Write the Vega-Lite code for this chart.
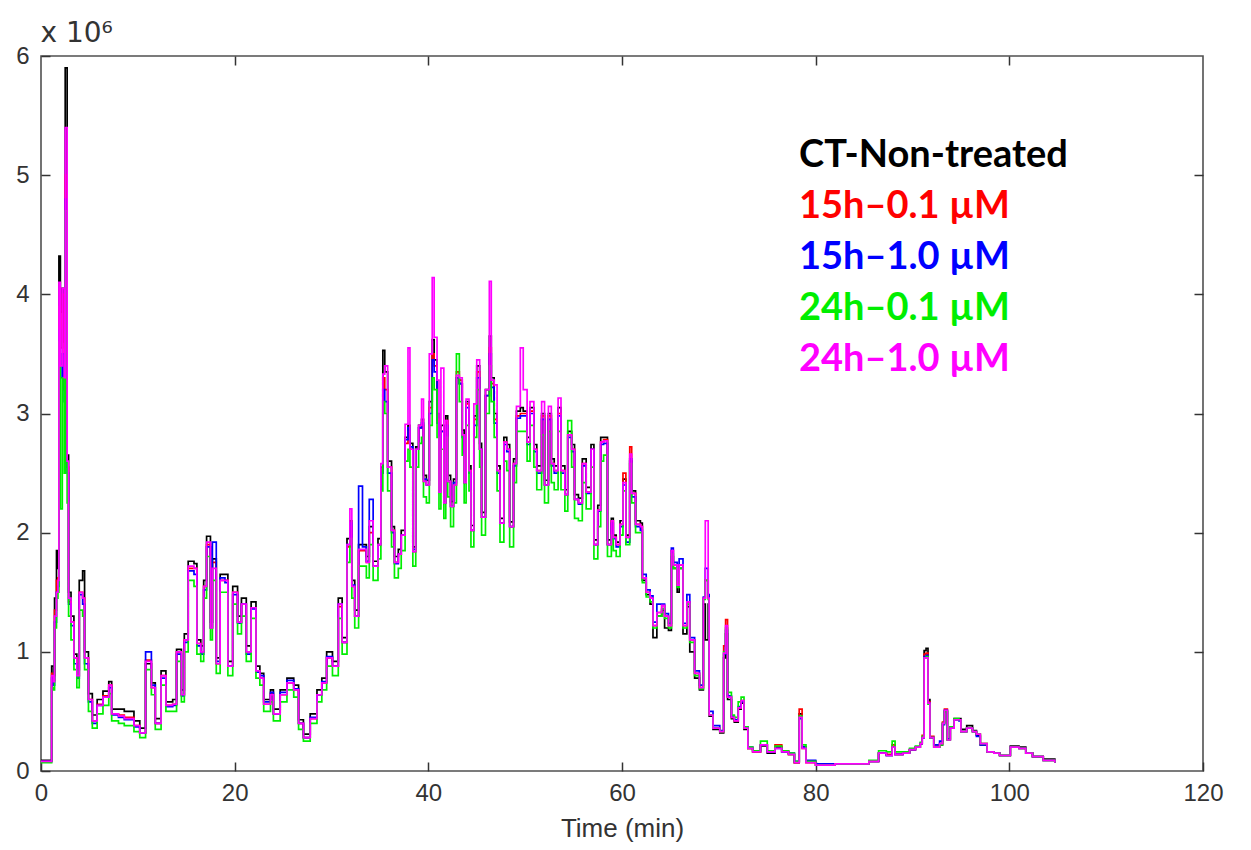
{
"$schema": "https://vega.github.io/schema/vega-lite/v6.json",
"width": 1162, "height": 715,
"autosize": {"type": "none"},
"padding": {"left": 41, "top": 56, "right": 48, "bottom": 79},
"background": "white",
"config": {
  "view": {"stroke": "#505050", "strokeWidth": 1.6},
  "axis": {"domain": false, "grid": false, "labelFont": "Liberation Sans", "titleFont": "Liberation Sans", "labelFontSize": 24, "titleFontSize": 26, "labelColor": "#333", "titleColor": "#333", "tickColor": "#333", "tickWidth": 1.5, "titleFontWeight": "normal"}
},
"data": {"values": [
{"t":0,"k":0.09,"r":0.08,"b":0.08,"g":0.07,"m":0.08},
{"t":1.0,"k":0.09,"r":0.08,"b":0.08,"g":0.07,"m":0.08},
{"t":1.1,"k":0.88,"r":0.82,"b":0.78,"g":0.7,"m":0.8},
{"t":1.3,"k":0.8,"r":0.76,"b":0.72,"g":0.68,"m":0.75},
{"t":1.4,"k":1.45,"r":1.35,"b":1.25,"g":1.2,"m":1.3},
{"t":1.6,"k":1.85,"r":1.6,"b":1.5,"g":1.45,"m":1.5},
{"t":1.75,"k":1.7,"r":1.62,"b":1.55,"g":1.5,"m":1.6},
{"t":1.85,"k":4.32,"r":3.9,"b":3.7,"g":3.6,"m":4.1},
{"t":2.0,"k":3.85,"r":3.55,"b":3.3,"g":2.2,"m":3.4},
{"t":2.2,"k":4.05,"r":4.0,"b":3.5,"g":3.3,"m":4.05},
{"t":2.4,"k":3.6,"r":3.2,"b":3.1,"g":2.5,"m":3.3},
{"t":2.5,"k":5.9,"r":5.0,"b":4.8,"g":4.7,"m":5.4},
{"t":2.7,"k":2.65,"r":2.55,"b":2.5,"g":2.25,"m":2.6},
{"t":2.85,"k":1.5,"r":1.42,"b":1.4,"g":1.3,"m":1.45},
{"t":3.1,"k":1.3,"r":1.25,"b":1.22,"g":1.1,"m":1.25},
{"t":3.4,"k":0.98,"r":0.95,"b":0.9,"g":0.85,"m":0.95},
{"t":3.7,"k":0.85,"r":0.8,"b":0.78,"g":0.7,"m":0.8},
{"t":3.95,"k":1.6,"r":1.5,"b":1.48,"g":1.35,"m":1.5},
{"t":4.3,"k":1.68,"r":1.45,"b":1.4,"g":1.3,"m":1.45},
{"t":4.5,"k":1.0,"r":0.95,"b":0.9,"g":0.85,"m":0.95},
{"t":4.9,"k":0.65,"r":0.6,"b":0.58,"g":0.5,"m":0.6},
{"t":5.3,"k":0.47,"r":0.42,"b":0.4,"g":0.36,"m":0.42},
{"t":5.8,"k":0.6,"r":0.56,"b":0.55,"g":0.48,"m":0.55},
{"t":6.4,"k":0.67,"r":0.63,"b":0.62,"g":0.55,"m":0.62},
{"t":7.0,"k":0.75,"r":0.72,"b":0.7,"g":0.65,"m":0.72},
{"t":7.3,"k":0.52,"r":0.48,"b":0.47,"g":0.42,"m":0.48},
{"t":8.0,"k":0.52,"r":0.47,"b":0.45,"g":0.4,"m":0.46},
{"t":8.6,"k":0.5,"r":0.45,"b":0.43,"g":0.38,"m":0.44},
{"t":9.6,"k":0.42,"r":0.38,"b":0.37,"g":0.33,"m":0.38},
{"t":10.2,"k":0.36,"r":0.32,"b":0.32,"g":0.28,"m":0.32},
{"t":10.8,"k":0.9,"r":0.93,"b":1.0,"g":0.85,"m":0.92},
{"t":11.4,"k":0.74,"r":0.7,"b":0.72,"g":0.64,"m":0.7},
{"t":11.8,"k":0.44,"r":0.4,"b":0.4,"g":0.35,"m":0.4},
{"t":12.4,"k":0.84,"r":0.8,"b":0.78,"g":0.72,"m":0.8},
{"t":12.9,"k":0.58,"r":0.55,"b":0.54,"g":0.5,"m":0.55},
{"t":13.6,"k":0.6,"r":0.56,"b":0.55,"g":0.5,"m":0.56},
{"t":14.0,"k":1.02,"r":1.0,"b":0.98,"g":0.92,"m":1.0},
{"t":14.5,"k":0.68,"r":0.64,"b":0.63,"g":0.58,"m":0.64},
{"t":14.8,"k":1.15,"r":1.1,"b":1.08,"g":1.0,"m":1.1},
{"t":15.2,"k":1.76,"r":1.7,"b":1.68,"g":1.6,"m":1.72},
{"t":15.8,"k":1.74,"r":1.7,"b":1.65,"g":1.55,"m":1.7},
{"t":16.1,"k":1.1,"r":1.07,"b":1.05,"g":0.98,"m":1.07},
{"t":16.5,"k":1.05,"r":1.0,"b":0.98,"g":0.92,"m":1.0},
{"t":16.8,"k":1.6,"r":1.55,"b":1.52,"g":1.45,"m":1.55},
{"t":17.1,"k":1.97,"r":1.9,"b":1.88,"g":1.8,"m":1.92},
{"t":17.5,"k":1.25,"r":1.2,"b":1.2,"g":1.1,"m":1.2},
{"t":17.7,"k":1.78,"r":1.75,"b":1.92,"g":1.6,"m":1.7},
{"t":18.1,"k":0.95,"r":0.9,"b":0.92,"g":0.82,"m":0.9},
{"t":18.5,"k":1.65,"r":1.6,"b":1.62,"g":1.5,"m":1.6},
{"t":19.0,"k":1.65,"r":1.6,"b":1.58,"g":1.5,"m":1.6},
{"t":19.3,"k":0.92,"r":0.88,"b":0.88,"g":0.8,"m":0.88},
{"t":19.8,"k":1.55,"r":1.5,"b":1.48,"g":1.4,"m":1.5},
{"t":20.3,"k":1.3,"r":1.25,"b":1.24,"g":1.15,"m":1.25},
{"t":20.7,"k":1.45,"r":1.4,"b":1.4,"g":1.3,"m":1.4},
{"t":21.2,"k":1.05,"r":1.0,"b":0.98,"g":0.92,"m":1.0},
{"t":21.7,"k":1.42,"r":1.37,"b":1.36,"g":1.28,"m":1.37},
{"t":22.2,"k":0.88,"r":0.84,"b":0.83,"g":0.78,"m":0.84},
{"t":22.6,"k":0.82,"r":0.78,"b":0.8,"g":0.72,"m":0.78},
{"t":23.0,"k":0.6,"r":0.56,"b":0.58,"g":0.5,"m":0.56},
{"t":23.7,"k":0.68,"r":0.65,"b":0.66,"g":0.58,"m":0.64},
{"t":24.0,"k":0.52,"r":0.48,"b":0.48,"g":0.42,"m":0.48},
{"t":24.7,"k":0.68,"r":0.64,"b":0.66,"g":0.58,"m":0.64},
{"t":25.4,"k":0.78,"r":0.74,"b":0.76,"g":0.68,"m":0.74},
{"t":26.1,"k":0.72,"r":0.68,"b":0.69,"g":0.62,"m":0.68},
{"t":26.6,"k":0.43,"r":0.4,"b":0.4,"g":0.35,"m":0.4},
{"t":27.1,"k":0.31,"r":0.28,"b":0.28,"g":0.25,"m":0.28},
{"t":27.8,"k":0.48,"r":0.44,"b":0.45,"g":0.4,"m":0.44},
{"t":28.5,"k":0.68,"r":0.64,"b":0.64,"g":0.58,"m":0.64},
{"t":29.0,"k":0.78,"r":0.74,"b":0.75,"g":0.68,"m":0.74},
{"t":29.5,"k":1.0,"r":0.95,"b":0.96,"g":0.88,"m":0.95},
{"t":30.1,"k":0.92,"r":0.88,"b":0.88,"g":0.8,"m":0.88},
{"t":30.7,"k":1.45,"r":1.38,"b":1.4,"g":1.28,"m":1.4},
{"t":31.1,"k":1.12,"r":1.08,"b":1.08,"g":0.98,"m":1.08},
{"t":31.6,"k":1.95,"r":1.88,"b":1.9,"g":1.75,"m":1.9},
{"t":31.9,"k":2.1,"r":2.05,"b":2.08,"g":1.95,"m":2.2},
{"t":32.1,"k":1.6,"r":1.55,"b":1.56,"g":1.45,"m":1.55},
{"t":32.4,"k":1.35,"r":1.3,"b":1.3,"g":1.2,"m":1.3},
{"t":32.8,"k":1.9,"r":1.85,"b":2.39,"g":1.72,"m":1.86},
{"t":33.2,"k":1.9,"r":1.85,"b":1.88,"g":1.72,"m":1.86},
{"t":33.6,"k":1.8,"r":1.75,"b":1.76,"g":1.62,"m":1.75},
{"t":33.9,"k":2.05,"r":2.0,"b":2.28,"g":1.9,"m":2.1},
{"t":34.3,"k":1.76,"r":1.72,"b":1.72,"g":1.6,"m":1.72},
{"t":34.8,"k":1.95,"r":1.9,"b":1.9,"g":1.78,"m":1.9},
{"t":35.1,"k":2.55,"r":2.5,"b":2.5,"g":2.35,"m":2.58},
{"t":35.3,"k":3.53,"r":3.3,"b":3.2,"g":3.1,"m":3.33},
{"t":35.5,"k":3.35,"r":3.2,"b":3.1,"g":3.0,"m":3.4},
{"t":35.8,"k":2.6,"r":2.55,"b":2.5,"g":2.35,"m":2.55},
{"t":36.2,"k":2.05,"r":2.02,"b":2.0,"g":1.88,"m":2.02},
{"t":36.5,"k":1.8,"r":1.75,"b":1.74,"g":1.62,"m":1.75},
{"t":36.9,"k":1.86,"r":1.82,"b":1.82,"g":1.7,"m":1.82},
{"t":37.2,"k":2.02,"r":1.98,"b":1.98,"g":1.85,"m":1.98},
{"t":37.6,"k":2.8,"r":2.75,"b":2.78,"g":2.6,"m":2.91},
{"t":37.9,"k":2.9,"r":2.85,"b":2.88,"g":2.7,"m":3.55},
{"t":38.1,"k":2.75,"r":2.7,"b":2.72,"g":2.55,"m":2.7},
{"t":38.4,"k":1.88,"r":1.84,"b":1.86,"g":1.72,"m":1.84},
{"t":38.7,"k":2.72,"r":2.7,"b":2.7,"g":2.55,"m":2.7},
{"t":39.0,"k":2.9,"r":2.88,"b":2.88,"g":2.75,"m":2.9},
{"t":39.3,"k":2.95,"r":2.9,"b":2.92,"g":2.8,"m":3.12},
{"t":39.5,"k":2.48,"r":2.43,"b":2.45,"g":2.3,"m":2.43},
{"t":39.8,"k":2.44,"r":2.4,"b":2.4,"g":2.25,"m":2.4},
{"t":40.1,"k":3.1,"r":3.05,"b":3.0,"g":2.9,"m":3.5},
{"t":40.4,"k":3.62,"r":3.5,"b":3.45,"g":3.3,"m":4.14},
{"t":40.6,"k":3.45,"r":3.4,"b":3.35,"g":3.2,"m":3.64},
{"t":40.9,"k":3.0,"r":2.95,"b":2.92,"g":2.8,"m":3.28},
{"t":41.1,"k":2.38,"r":2.34,"b":2.34,"g":2.2,"m":2.34},
{"t":41.3,"k":2.9,"r":2.85,"b":2.85,"g":2.7,"m":3.38},
{"t":41.6,"k":2.3,"r":2.25,"b":2.25,"g":2.12,"m":2.25},
{"t":41.8,"k":2.98,"r":2.94,"b":2.9,"g":2.8,"m":2.94},
{"t":42.0,"k":2.48,"r":2.43,"b":2.43,"g":2.3,"m":2.43},
{"t":42.3,"k":2.26,"r":2.22,"b":2.22,"g":2.05,"m":2.22},
{"t":42.6,"k":2.45,"r":2.4,"b":2.42,"g":2.25,"m":2.4},
{"t":42.9,"k":3.3,"r":3.35,"b":3.3,"g":3.5,"m":3.32},
{"t":43.2,"k":3.25,"r":3.28,"b":3.25,"g":3.1,"m":3.3},
{"t":43.5,"k":2.86,"r":2.82,"b":2.8,"g":2.65,"m":2.82},
{"t":43.7,"k":2.46,"r":2.42,"b":2.42,"g":2.25,"m":2.42},
{"t":43.9,"k":3.1,"r":3.08,"b":3.05,"g":2.9,"m":3.12},
{"t":44.2,"k":2.56,"r":2.52,"b":2.5,"g":2.35,"m":2.52},
{"t":44.4,"k":2.06,"r":2.02,"b":2.02,"g":1.88,"m":2.02},
{"t":44.7,"k":2.98,"r":2.95,"b":2.9,"g":2.8,"m":3.08},
{"t":45.0,"k":3.4,"r":3.35,"b":3.3,"g":3.2,"m":3.45},
{"t":45.3,"k":2.75,"r":2.7,"b":2.7,"g":2.55,"m":2.7},
{"t":45.5,"k":2.17,"r":2.13,"b":2.13,"g":1.98,"m":2.13},
{"t":45.9,"k":3.2,"r":3.15,"b":3.15,"g":3.0,"m":3.2},
{"t":46.3,"k":3.65,"r":3.55,"b":3.5,"g":3.4,"m":4.11},
{"t":46.5,"k":3.3,"r":3.25,"b":3.22,"g":3.1,"m":3.28},
{"t":46.8,"k":3.0,"r":2.95,"b":2.92,"g":2.8,"m":3.24},
{"t":47.1,"k":2.56,"r":2.52,"b":2.5,"g":2.35,"m":2.52},
{"t":47.4,"k":2.12,"r":2.08,"b":2.08,"g":1.92,"m":2.08},
{"t":47.8,"k":2.8,"r":2.76,"b":2.74,"g":2.6,"m":2.76},
{"t":48.1,"k":2.74,"r":2.7,"b":2.68,"g":2.52,"m":2.7},
{"t":48.4,"k":2.09,"r":2.05,"b":2.05,"g":1.88,"m":2.05},
{"t":48.8,"k":2.62,"r":2.58,"b":2.56,"g":2.42,"m":2.58},
{"t":49.1,"k":3.02,"r":2.98,"b":2.96,"g":2.85,"m":3.06},
{"t":49.5,"k":3.05,"r":3.0,"b":2.98,"g":2.85,"m":3.55},
{"t":49.8,"k":3.02,"r":3.0,"b":2.98,"g":2.85,"m":3.2},
{"t":50.2,"k":2.8,"r":2.76,"b":2.74,"g":2.6,"m":2.76},
{"t":50.5,"k":3.05,"r":3.02,"b":3.0,"g":2.9,"m":3.1},
{"t":50.9,"k":2.74,"r":2.7,"b":2.68,"g":2.55,"m":2.7},
{"t":51.2,"k":2.56,"r":2.52,"b":2.5,"g":2.36,"m":2.52},
{"t":51.7,"k":3.0,"r":2.98,"b":2.95,"g":2.82,"m":3.1},
{"t":52.0,"k":2.44,"r":2.4,"b":2.4,"g":2.25,"m":2.4},
{"t":52.4,"k":3.0,"r":2.98,"b":2.95,"g":2.85,"m":3.06},
{"t":52.7,"k":2.62,"r":2.58,"b":2.56,"g":2.42,"m":2.58},
{"t":53.0,"k":2.56,"r":2.52,"b":2.5,"g":2.36,"m":2.52},
{"t":53.4,"k":3.05,"r":3.0,"b":2.98,"g":2.85,"m":3.13},
{"t":53.7,"k":2.56,"r":2.52,"b":2.5,"g":2.36,"m":2.52},
{"t":54.1,"k":2.36,"r":2.32,"b":2.32,"g":2.18,"m":2.32},
{"t":54.4,"k":2.85,"r":2.82,"b":2.8,"g":2.94,"m":2.82},
{"t":54.8,"k":2.74,"r":2.7,"b":2.68,"g":2.55,"m":2.7},
{"t":55.1,"k":2.32,"r":2.28,"b":2.28,"g":2.12,"m":2.28},
{"t":55.5,"k":2.29,"r":2.25,"b":2.24,"g":2.1,"m":2.25},
{"t":55.9,"k":2.62,"r":2.58,"b":2.56,"g":2.42,"m":2.58},
{"t":56.3,"k":2.38,"r":2.34,"b":2.33,"g":2.2,"m":2.34},
{"t":56.8,"k":2.74,"r":2.7,"b":2.7,"g":2.55,"m":2.7},
{"t":57.1,"k":1.94,"r":1.9,"b":1.9,"g":1.78,"m":1.9},
{"t":57.5,"k":2.23,"r":2.19,"b":2.18,"g":2.05,"m":2.19},
{"t":57.8,"k":2.8,"r":2.76,"b":2.74,"g":2.6,"m":2.76},
{"t":58.1,"k":2.8,"r":2.78,"b":2.75,"g":2.65,"m":2.77},
{"t":58.5,"k":1.94,"r":1.9,"b":1.9,"g":1.8,"m":1.9},
{"t":58.9,"k":2.12,"r":2.1,"b":2.08,"g":1.98,"m":2.1},
{"t":59.1,"k":1.98,"r":1.96,"b":1.95,"g":1.85,"m":1.96},
{"t":59.4,"k":1.92,"r":1.9,"b":1.88,"g":1.8,"m":1.9},
{"t":59.8,"k":2.1,"r":2.07,"b":2.05,"g":1.98,"m":2.07},
{"t":60.1,"k":2.45,"r":2.5,"b":2.4,"g":2.35,"m":2.42},
{"t":60.4,"k":1.98,"r":1.96,"b":1.92,"g":1.9,"m":1.96},
{"t":60.8,"k":2.6,"r":2.72,"b":2.62,"g":2.58,"m":2.66},
{"t":61.0,"k":2.35,"r":2.33,"b":2.3,"g":2.25,"m":2.33},
{"t":61.4,"k":2.1,"r":2.07,"b":2.05,"g":2.0,"m":2.07},
{"t":61.9,"k":2.08,"r":2.05,"b":2.02,"g":2.0,"m":2.05},
{"t":62.1,"k":1.6,"r":1.62,"b":1.65,"g":1.58,"m":1.62},
{"t":62.5,"k":1.48,"r":1.5,"b":1.52,"g":1.46,"m":1.5},
{"t":62.9,"k":1.4,"r":1.45,"b":1.47,"g":1.42,"m":1.45},
{"t":63.2,"k":1.12,"r":1.22,"b":1.25,"g":1.2,"m":1.22},
{"t":63.6,"k":1.3,"r":1.33,"b":1.4,"g":1.3,"m":1.33},
{"t":64.1,"k":1.35,"r":1.39,"b":1.4,"g":1.36,"m":1.39},
{"t":64.4,"k":1.2,"r":1.3,"b":1.32,"g":1.28,"m":1.3},
{"t":64.8,"k":1.18,"r":1.22,"b":1.24,"g":1.2,"m":1.22},
{"t":65.1,"k":1.8,"r":1.85,"b":1.87,"g":1.82,"m":1.85},
{"t":65.3,"k":1.7,"r":1.73,"b":1.75,"g":1.7,"m":1.73},
{"t":65.7,"k":1.5,"r":1.56,"b":1.6,"g":1.54,"m":1.56},
{"t":65.9,"k":1.7,"r":1.73,"b":1.78,"g":1.7,"m":1.73},
{"t":66.3,"k":1.15,"r":1.22,"b":1.24,"g":1.2,"m":1.22},
{"t":66.7,"k":1.38,"r":1.42,"b":1.48,"g":1.4,"m":1.42},
{"t":67.0,"k":1.0,"r":1.1,"b":1.12,"g":1.08,"m":1.1},
{"t":67.5,"k":0.78,"r":0.82,"b":0.84,"g":0.8,"m":0.82},
{"t":68.0,"k":0.68,"r":0.7,"b":0.72,"g":0.69,"m":0.7},
{"t":68.4,"k":1.4,"r":1.45,"b":1.46,"g":1.44,"m":1.45},
{"t":68.6,"k":1.1,"r":1.6,"b":1.7,"g":1.6,"m":2.1},
{"t":68.9,"k":1.4,"r":1.45,"b":1.48,"g":1.44,"m":1.45},
{"t":69.0,"k":0.46,"r":0.47,"b":0.5,"g":0.47,"m":0.47},
{"t":69.4,"k":0.35,"r":0.36,"b":0.38,"g":0.36,"m":0.36},
{"t":70.1,"k":0.32,"r":0.33,"b":0.34,"g":0.33,"m":0.33},
{"t":70.5,"k":0.95,"r":1.05,"b":0.98,"g":1.0,"m":0.99},
{"t":70.7,"k":1.15,"r":1.27,"b":1.18,"g":1.2,"m":1.22},
{"t":70.9,"k":0.6,"r":0.62,"b":0.63,"g":0.66,"m":0.62},
{"t":71.3,"k":0.44,"r":0.45,"b":0.46,"g":0.47,"m":0.45},
{"t":71.6,"k":0.41,"r":0.42,"b":0.43,"g":0.45,"m":0.42},
{"t":72.0,"k":0.52,"r":0.53,"b":0.54,"g":0.58,"m":0.53},
{"t":72.3,"k":0.57,"r":0.59,"b":0.58,"g":0.62,"m":0.59},
{"t":72.6,"k":0.35,"r":0.36,"b":0.37,"g":0.37,"m":0.36},
{"t":73.0,"k":0.19,"r":0.19,"b":0.2,"g":0.2,"m":0.19},
{"t":73.5,"k":0.16,"r":0.16,"b":0.17,"g":0.17,"m":0.16},
{"t":74.3,"k":0.21,"r":0.22,"b":0.22,"g":0.25,"m":0.22},
{"t":75.0,"k":0.15,"r":0.16,"b":0.16,"g":0.17,"m":0.16},
{"t":75.8,"k":0.2,"r":0.22,"b":0.19,"g":0.21,"m":0.19},
{"t":76.5,"k":0.16,"r":0.17,"b":0.16,"g":0.17,"m":0.16},
{"t":77.2,"k":0.14,"r":0.14,"b":0.15,"g":0.15,"m":0.14},
{"t":77.8,"k":0.07,"r":0.07,"b":0.08,"g":0.08,"m":0.07},
{"t":78.3,"k":0.48,"r":0.52,"b":0.44,"g":0.46,"m":0.45},
{"t":78.6,"k":0.2,"r":0.19,"b":0.2,"g":0.22,"m":0.19},
{"t":79.0,"k":0.08,"r":0.07,"b":0.09,"g":0.08,"m":0.07},
{"t":80.0,"k":0.05,"r":0.05,"b":0.06,"g":0.05,"m":0.05},
{"t":82.0,"k":0.06,"r":0.06,"b":0.06,"g":0.06,"m":0.06},
{"t":85.0,"k":0.06,"r":0.06,"b":0.06,"g":0.06,"m":0.06},
{"t":85.5,"k":0.08,"r":0.08,"b":0.08,"g":0.09,"m":0.08},
{"t":86.5,"k":0.15,"r":0.15,"b":0.15,"g":0.17,"m":0.15},
{"t":87.3,"k":0.13,"r":0.14,"b":0.13,"g":0.16,"m":0.13},
{"t":87.9,"k":0.2,"r":0.22,"b":0.2,"g":0.25,"m":0.2},
{"t":88.2,"k":0.14,"r":0.14,"b":0.14,"g":0.16,"m":0.14},
{"t":89.0,"k":0.16,"r":0.15,"b":0.15,"g":0.16,"m":0.15},
{"t":89.7,"k":0.18,"r":0.18,"b":0.18,"g":0.19,"m":0.18},
{"t":90.3,"k":0.2,"r":0.2,"b":0.2,"g":0.21,"m":0.2},
{"t":90.8,"k":0.23,"r":0.23,"b":0.23,"g":0.24,"m":0.23},
{"t":91.0,"k":0.28,"r":0.3,"b":0.28,"g":0.29,"m":0.28},
{"t":91.2,"k":1.01,"r":0.98,"b":0.96,"g":0.95,"m":0.95},
{"t":91.4,"k":1.03,"r":0.99,"b":0.97,"g":0.96,"m":0.95},
{"t":91.6,"k":0.6,"r":0.58,"b":0.57,"g":0.56,"m":0.57},
{"t":91.8,"k":0.28,"r":0.29,"b":0.28,"g":0.28,"m":0.28},
{"t":92.2,"k":0.2,"r":0.21,"b":0.22,"g":0.2,"m":0.2},
{"t":92.8,"k":0.22,"r":0.23,"b":0.25,"g":0.22,"m":0.23},
{"t":93.1,"k":0.4,"r":0.41,"b":0.39,"g":0.4,"m":0.4},
{"t":93.3,"k":0.5,"r":0.52,"b":0.51,"g":0.5,"m":0.51},
{"t":93.6,"k":0.26,"r":0.27,"b":0.27,"g":0.26,"m":0.26},
{"t":93.9,"k":0.37,"r":0.36,"b":0.36,"g":0.37,"m":0.36},
{"t":94.3,"k":0.44,"r":0.43,"b":0.43,"g":0.44,"m":0.43},
{"t":94.8,"k":0.44,"r":0.43,"b":0.42,"g":0.43,"m":0.43},
{"t":95.0,"k":0.35,"r":0.33,"b":0.33,"g":0.33,"m":0.33},
{"t":95.6,"k":0.38,"r":0.36,"b":0.36,"g":0.36,"m":0.36},
{"t":96.2,"k":0.34,"r":0.33,"b":0.33,"g":0.33,"m":0.33},
{"t":96.6,"k":0.3,"r":0.31,"b":0.29,"g":0.31,"m":0.31},
{"t":97.0,"k":0.22,"r":0.23,"b":0.22,"g":0.23,"m":0.23},
{"t":97.7,"k":0.16,"r":0.16,"b":0.16,"g":0.16,"m":0.16},
{"t":98.4,"k":0.15,"r":0.15,"b":0.15,"g":0.15,"m":0.15},
{"t":99.0,"k":0.13,"r":0.13,"b":0.13,"g":0.13,"m":0.13},
{"t":99.6,"k":0.13,"r":0.13,"b":0.13,"g":0.13,"m":0.13},
{"t":100.1,"k":0.21,"r":0.2,"b":0.2,"g":0.2,"m":0.2},
{"t":101.0,"k":0.2,"r":0.19,"b":0.19,"g":0.19,"m":0.19},
{"t":101.7,"k":0.15,"r":0.15,"b":0.15,"g":0.15,"m":0.15},
{"t":102.4,"k":0.12,"r":0.12,"b":0.12,"g":0.12,"m":0.12},
{"t":103.5,"k":0.1,"r":0.09,"b":0.09,"g":0.09,"m":0.09},
{"t":104.7,"k":0.07,"r":0.07,"b":0.07,"g":0.07,"m":0.07}
]},
"resolve": {"axis": {"x": "independent", "y": "independent"}},
"layer": [
  {"mark": {"type": "line", "interpolate": "step-after", "strokeWidth": 1.7},
   "encoding": {
     "x": {"field": "t", "type": "quantitative", "scale": {"domain": [0, 120], "nice": false, "zero": false},
           "axis": {"orient": "bottom", "values": [0, 20, 40, 60, 80, 100, 120], "tickSize": -9, "labelPadding": 19, "title": "Time (min)", "titlePadding": 10, "labelFlush": false}},
     "y": {"field": "k", "type": "quantitative", "scale": {"domain": [0, 6], "nice": false},
           "axis": {"orient": "left", "values": [0, 1, 2, 3, 4, 5, 6], "tickSize": -9, "labelPadding": 21, "labelFlush": false, "title": "x 10⁶", "titleAngle": 0, "titleAlign": "left", "titleBaseline": "alphabetic", "titleX": -1, "titleY": -15, "titleFontSize": 28, "titleFont": "DejaVu Sans"}},
     "color": {"datum": "CT-Non-treated", "type": "nominal",
       "scale": {"domain": ["CT-Non-treated", "15h–0.1 µM", "15h–1.0 µM", "24h–0.1 µM", "24h–1.0 µM"], "range": ["#000000", "#ff0000", "#0000ff", "#00ee00", "#ff00ff"]},
       "legend": {"orient": "none", "legendX": 720, "legendY": 81, "title": null, "symbolOpacity": 0, "symbolSize": 0, "symbolStrokeWidth": 0, "labelOffset": 0, "labelFont": "Lato", "labelFontWeight": "bold", "labelFontSize": 38, "labelLimit": 0, "rowPadding": 13, "labelColor": {"expr": "scale('color', datum.value)"}}}
   }},
  {"mark": {"type": "line", "interpolate": "step-after", "strokeWidth": 1.7},
   "encoding": {"x": {"field": "t", "type": "quantitative", "axis": null}, "y": {"field": "r", "type": "quantitative", "axis": null}, "color": {"datum": "15h–0.1 µM", "type": "nominal"}}},
  {"mark": {"type": "line", "interpolate": "step-after", "strokeWidth": 1.7},
   "encoding": {"x": {"field": "t", "type": "quantitative", "axis": null}, "y": {"field": "b", "type": "quantitative", "axis": null}, "color": {"datum": "15h–1.0 µM", "type": "nominal"}}},
  {"mark": {"type": "line", "interpolate": "step-after", "strokeWidth": 1.7},
   "encoding": {"x": {"field": "t", "type": "quantitative", "axis": null}, "y": {"field": "g", "type": "quantitative", "axis": null}, "color": {"datum": "24h–0.1 µM", "type": "nominal"}}},
  {"mark": {"type": "line", "interpolate": "step-after", "strokeWidth": 1.7},
   "encoding": {"x": {"field": "t", "type": "quantitative", "axis": null}, "y": {"field": "m", "type": "quantitative", "axis": null}, "color": {"datum": "24h–1.0 µM", "type": "nominal"}}},
  {"mark": {"type": "line", "opacity": 0},
   "encoding": {
     "x": {"field": "t", "type": "quantitative", "axis": {"orient": "top", "values": [20, 40, 60, 80, 100], "tickSize": -9, "labels": false, "title": null}},
     "y": {"field": "m", "type": "quantitative", "axis": {"orient": "right", "values": [1, 2, 3, 4, 5], "tickSize": -9, "labels": false, "title": null}}
   }}
]
}
